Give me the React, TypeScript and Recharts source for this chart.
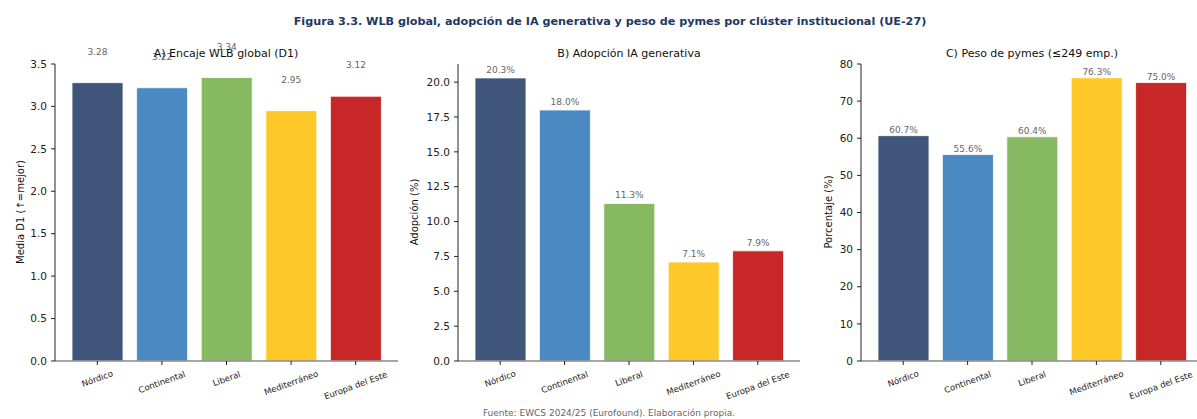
import React from 'react';
import { BarChart, Bar, XAxis, YAxis, Cell, LabelList } from 'recharts';

const categories = ['Nórdico', 'Continental', 'Liberal', 'Mediterráneo', 'Europa del Este'];
const wlbValues = [3.28, 3.22, 3.34, 2.95, 3.12];
const iaValues = [20.3, 18.0, 11.3, 7.1, 7.9];
const pymeValues = [60.7, 55.6, 60.4, 76.3, 75.0];
const barColors = ['#3f5579', '#4a89c1', '#86b962', '#fec928', '#c72727'];

const wlbTicks = [0, 0.5, 1, 1.5, 2, 2.5, 3, 3.5];
const iaTicks = [0, 2.5, 5, 7.5, 10, 12.5, 15, 17.5, 20];
const pymeTicks = [0, 10, 20, 30, 40, 50, 60, 70, 80];

const FONT = '"DejaVu Sans", sans-serif';

const wlbData = categories.map((c, i) => ({ name: c, value: wlbValues[i] }));
const iaData = categories.map((c, i) => ({ name: c, value: iaValues[i] }));
const pymeData = categories.map((c, i) => ({ name: c, value: pymeValues[i] }));

const RotTick = (props: any) => {
  const { x, y, payload } = props;
  const label = String(payload.value);
  const w = label.length * 4.9;
  const h = 10;
  const a = (20 * Math.PI) / 180;
  const cy = y + 3 + (w * Math.sin(a) + h * Math.cos(a)) / 2;
  return (
    <text
      x={x}
      y={cy}
      textAnchor="middle"
      dominantBaseline="central"
      transform={`rotate(-20, ${x}, ${cy})`}
      fontSize={8.5}
      fontFamily={FONT}
      fill="#222"
    >
      {label}
    </text>
  );
};

const makeLabel = (offset: number, fmt: (v: number) => string) => (props: any) => {
  const { x, y, width, value } = props;
  return (
    <text
      x={x + width / 2}
      y={y - offset}
      textAnchor="middle"
      dominantBaseline="central"
      fontSize={9}
      fontFamily={FONT}
      fill="#666"
    >
      {fmt(value)}
    </text>
  );
};

type PanelProps = {
  data: { name: string; value: number }[];
  left: number;
  width: number;
  domain: [number, number];
  ticks: number[];
  tickFmt: (v: number) => string;
  labelOffset: number;
  labelFmt: (v: number) => string;
};

const Panel = ({ data, left, width, domain, ticks, tickFmt, labelOffset, labelFmt }: PanelProps) => (
  <div style={{ position: 'absolute', left, top: 0 }}>
    <BarChart
      width={width}
      height={419}
      data={data}
      margin={{ top: 64, right: 0, bottom: 8, left: 0 }}
      barCategoryGap={0}
    >
      <XAxis
        dataKey="name"
        type="category"
        padding={{ left: 10, right: 10 }}
        height={50}
        tickSize={4}
        tickMargin={0}
        axisLine={{ stroke: '#888', strokeWidth: 1.3 }}
        tickLine={{ stroke: '#222' }}
        tick={<RotTick />}
        interval={0}
      />
      <YAxis
        type="number"
        domain={domain}
        ticks={ticks}
        allowDataOverflow
        width={55}
        tickSize={4}
        tickMargin={4}
        tickFormatter={tickFmt}
        axisLine={{ stroke: '#222' }}
        tickLine={{ stroke: '#222' }}
        tick={{ fontSize: 10.5, fontFamily: FONT, fill: '#222' }}
      />
      <Bar dataKey="value" barSize={51} isAnimationActive={false} stroke="#ffffff" strokeWidth={0.8}>
        {data.map((d, i) => (
          <Cell key={d.name} fill={barColors[i]} />
        ))}
        <LabelList dataKey="value" content={makeLabel(labelOffset, labelFmt)} />
      </Bar>
    </BarChart>
  </div>
);

export default function App() {
  return (
    <div
      style={{
        position: 'absolute',
        left: 0,
        top: 0,
        width: 1197,
        height: 419,
        overflow: 'hidden',
        background: '#fff',
        fontFamily: FONT,
      }}
    >
      <Panel
        data={wlbData}
        left={0}
        width={398}
        domain={[0, 3.5]}
        ticks={wlbTicks}
        tickFmt={(v) => v.toFixed(1)}
        labelOffset={31}
        labelFmt={(v) => v.toFixed(2)}
      />
      <Panel
        data={iaData}
        left={403}
        width={397}
        domain={[0, 21.3]}
        ticks={iaTicks}
        tickFmt={(v) => v.toFixed(1)}
        labelOffset={8}
        labelFmt={(v) => `${v.toFixed(1)}%`}
      />
      <Panel
        data={pymeData}
        left={806}
        width={397}
        domain={[0, 80]}
        ticks={pymeTicks}
        tickFmt={(v) => String(v)}
        labelOffset={6}
        labelFmt={(v) => `${v.toFixed(1)}%`}
      />
      <svg
        width={1197}
        height={419}
        style={{ position: 'absolute', left: 0, top: 0, pointerEvents: 'none' }}
        fontFamily={FONT}
      >
        <text x={610} y={21} textAnchor="middle" dominantBaseline="central" fontSize={11.2} fontWeight="bold" fill="#203864">
          Figura 3.3. WLB global, adopción de IA generativa y peso de pymes por clúster institucional (UE-27)
        </text>
        <text x={226} y={53} textAnchor="middle" dominantBaseline="central" fontSize={11} fill="#111">
          A) Encaje WLB global (D1)
        </text>
        <text x={629} y={53} textAnchor="middle" dominantBaseline="central" fontSize={11} fill="#111">
          B) Adopción IA generativa
        </text>
        <text x={1032} y={53} textAnchor="middle" dominantBaseline="central" fontSize={11} fill="#111">
          C) Peso de pymes (≤249 emp.)
        </text>
        <text x={20} y={212} textAnchor="middle" dominantBaseline="central" fontSize={10} fill="#111" transform="rotate(-90, 20, 212)">
          Media D1 (↑=mejor)
        </text>
        <text x={414} y={212} textAnchor="middle" dominantBaseline="central" fontSize={10} fill="#111" transform="rotate(-90, 414, 212)">
          Adopción (%)
        </text>
        <text x={828} y={212} textAnchor="middle" dominantBaseline="central" fontSize={10} fill="#111" transform="rotate(-90, 828, 212)">
          Porcentaje (%)
        </text>
        <text x={609} y={413} textAnchor="middle" dominantBaseline="central" fontSize={9} fill="#666">
          Fuente: EWCS 2024/25 (Eurofound). Elaboración propia.
        </text>
      </svg>
    </div>
  );
}
